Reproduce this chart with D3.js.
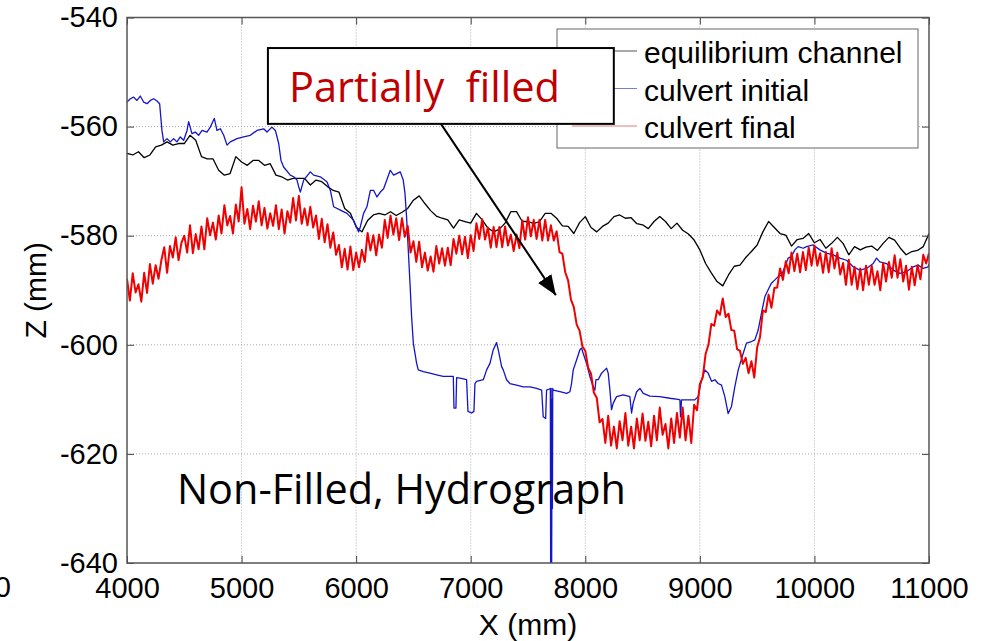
<!DOCTYPE html>
<html>
<head>
<meta charset="utf-8">
<script src="https://cdn.jsdelivr.net/npm/d3@7"></script>
<style>
body { margin: 0; background: #fff; }
svg { display: block; }
</style>
</head>
<body>
<div id="chart"></div>
<script>
// Axis ticks
var xTicks = [4000, 5000, 6000, 7000, 8000, 9000, 10000, 11000];
var zTicks = [-540, -560, -580, -600, -620, -640];
var seriesNames = ["equilibrium channel", "culvert initial", "culvert final"];

// equilibrium channel, one value every 50 mm from 4000
var eqStart = 4000, eqStep = 50;
var eqZ = [
  -564.9, -565.2, -564.6, -565.7, -565.2, -563.7, -563.4, -562.8, -563.4, -563.1,
  -563.1, -561.6, -562.5, -565.5, -565.9, -565.9, -568.0, -568.9, -568.6, -565.5,
  -566.5, -567.1, -566.2, -566.2, -567.1, -566.8, -568.9, -569.2, -569.8, -569.5,
  -569.5, -569.5, -570.7, -569.8, -570.1, -571.0, -571.7, -572.0, -575.0, -575.9,
  -578.4, -579.3, -577.2, -576.2, -575.9, -576.2, -575.6, -576.3, -575.7, -575.0,
  -573.5, -572.7, -574.1, -575.4, -576.4, -576.8, -577.1, -578.6, -577.1, -577.4,
  -577.7, -575.9, -577.1, -578.6, -579.3, -578.8, -577.7, -575.6, -575.6, -577.4,
  -577.4, -577.8, -577.4, -575.9, -575.9, -576.8, -578.2, -578.3, -579.6, -577.6,
  -576.5, -578.5, -579.3, -578.3, -577.7, -576.5, -576.2, -576.8, -576.7, -577.8,
  -578.0, -578.7, -577.4, -576.5, -577.4, -578.7, -577.7, -579.0, -579.7, -580.8,
  -582.6, -585.1, -586.8, -588.4, -589.2, -587.2, -585.6, -585.4, -584.0, -582.9,
  -581.7, -579.3, -577.4, -578.5, -579.6, -579.9, -581.9, -580.7, -580.5, -579.6,
  -581.3, -580.7, -582.3, -581.4, -580.3, -581.4, -583.5, -582.0, -582.6, -582.1,
  -581.9, -582.7, -581.4, -580.3, -580.8, -582.3, -583.5, -582.9, -582.7, -582.0,
  -579.6
];

// culvert initial, irregular points
var initX = [
  4000, 4029, 4058, 4087, 4116, 4145, 4175, 4204, 4233, 4262, 4285, 4305, 4320, 4349, 4378,
  4407, 4436, 4465, 4495, 4524, 4538, 4567, 4596, 4625, 4655, 4698, 4727, 4762, 4785, 4815,
  4844, 4873, 4902, 4960, 5018, 5076, 5135, 5193, 5222, 5265, 5295, 5324, 5344, 5367, 5425,
  5455, 5484, 5498, 5513, 5542, 5600, 5629, 5687, 5745, 5775, 5804, 5862, 5920, 5978, 6022,
  6036, 6065, 6094, 6124, 6153, 6182, 6211, 6240, 6298, 6327, 6385, 6411, 6426, 6440, 6455,
  6470, 6484, 6499, 6528, 6542, 6586, 6644, 6702, 6760, 6819, 6848, 6854, 6871, 6877, 6906,
  6964, 6976, 7008, 7028, 7037, 7051, 7110, 7139, 7168, 7197, 7226, 7240, 7270, 7284, 7313,
  7342, 7400, 7459, 7517, 7575, 7619, 7633, 7654, 7662, 7686, 7695, 7698, 7702, 7706, 7710,
  7713, 7716, 7720, 7779, 7837, 7866, 7880, 7895, 7924, 7953, 7968, 7982, 8011, 8040, 8069,
  8084, 8093, 8113, 8142, 8171, 8186, 8200, 8215, 8229, 8244, 8273, 8331, 8389, 8404, 8418,
  8448, 8477, 8506, 8564, 8651, 8738, 8811, 8826, 8831, 8840, 8913, 8956, 8985, 9015, 9044,
  9073, 9102, 9131, 9160, 9189, 9218, 9247, 9276, 9305, 9335, 9378, 9407, 9451, 9480, 9509,
  9538, 9567, 9596, 9625, 9655, 9684, 9713, 9742, 9771, 9800, 9829, 9858, 9902, 9931, 9989,
  10047, 10105, 10164, 10222, 10280, 10338, 10396, 10455, 10513, 10542, 10571, 10629, 10687, 10745, 10804,
  10862, 10905, 10949, 10993, 11000
];
var initZ = [
  -555.5, -554.9, -554.6, -555.2, -554.4, -555.5, -555.8, -555.2, -554.9, -555.3, -555.8, -560.7, -562.8, -562.2, -562.8,
  -562.2, -562.8, -561.9, -562.5, -560.7, -559.1, -561.3, -561.0, -561.6, -560.7, -561.0, -560.1, -558.5, -560.7, -560.4,
  -561.6, -563.4, -562.8, -562.2, -561.9, -561.6, -560.7, -560.4, -561.0, -560.1, -560.7, -563.1, -566.2, -567.4, -568.9,
  -569.2, -569.8, -571.0, -572.0, -569.8, -568.3, -568.9, -569.2, -570.1, -571.7, -574.7, -575.3, -575.9, -577.2, -579.3,
  -578.4, -575.9, -574.7, -571.7, -571.7, -572.9, -572.0, -571.4, -568.0, -568.9, -568.3, -569.8, -572.2, -576.5, -582.6,
  -588.7, -594.8, -599.7, -603.4, -604.6, -604.9, -605.2, -605.5, -605.8, -605.8, -605.8, -611.6, -611.6, -606.0, -606.1,
  -606.4, -612.2, -612.5, -612.2, -607.1, -606.7, -606.4, -604.6, -603.4, -600.9, -599.6, -600.9, -604.0, -604.6, -606.4,
  -607.1, -607.4, -607.7, -607.7, -608.0, -608.3, -613.2, -613.5, -608.3, -608.1, -608.0, -645.0, -608.0, -645.0, -610.0,
  -630.0, -608.0, -608.3, -608.6, -608.9, -608.6, -607.1, -604.6, -602.8, -600.9, -600.6, -601.6, -603.4, -605.8, -607.7,
  -608.3, -606.4, -606.4, -605.2, -604.6, -604.3, -605.2, -608.3, -611.9, -610.7, -609.5, -609.2, -609.5, -612.5, -610.7,
  -608.6, -608.0, -608.9, -609.4, -609.5, -609.8, -610.0, -610.1, -613.2, -610.1, -610.1, -610.1, -609.5, -606.4, -604.6,
  -605.2, -606.7, -606.4, -607.1, -607.4, -609.5, -612.6, -611.3, -607.7, -604.6, -601.6, -599.7, -599.4, -599.1, -597.3,
  -594.2, -591.2, -589.9, -588.7, -588.1, -587.5, -587.2, -585.7, -584.1, -583.8, -582.6, -582.0, -582.3, -582.0, -581.7,
  -582.6, -583.2, -583.5, -584.1, -584.5, -585.7, -586.3, -586.0, -585.1, -584.1, -584.8, -585.1, -586.3, -586.9, -586.6,
  -585.7, -585.4, -586.0, -585.7, -585.2
];

// culvert final, one value every 25 mm from 4000 (4 values per 100 mm)
var finStart = 4000, finStep = 25;
var finZ = [
  -587.9, -591.9, -586.9, -590.4,   -588.9, -592.1, -586.8, -590.5,   -585.2, -588.8, -585.4, -587.9,
  -584.5, -582.1, -586.8, -581.9,   -584.0, -580.3, -584.5, -581.3,   -580.0, -583.1, -578.1, -583.2,
  -579.7, -582.5, -578.3, -582.5,   -576.8, -579.9, -577.6, -580.7,   -576.3, -579.6, -574.4, -578.1,
  -576.4, -579.6, -574.3, -577.4,   -571.1, -577.8, -575.1, -578.8,   -574.5, -577.4, -573.7, -578.1,
  -574.9, -578.7, -575.9, -578.2,   -574.4, -578.8, -575.2, -579.6,   -575.5, -577.6, -573.1, -577.2,
  -572.7, -577.8, -575.0, -578.1,   -574.7, -578.5, -576.3, -580.6,   -576.9, -581.2, -577.9, -582.2,
  -579.4, -583.5, -581.7, -585.8,   -582.4, -586.2, -582.0, -586.3,   -583.1, -585.8, -582.6, -584.8,
  -579.5, -582.7, -579.9, -583.6,   -579.8, -582.2, -577.1, -580.4,   -576.3, -579.8, -576.8, -580.8,
  -576.8, -580.2, -578.2, -583.1,   -581.0, -584.8, -581.1, -585.8,   -583.1, -586.4, -583.8, -586.6,
  -581.9, -585.1, -582.3, -585.5,   -582.2, -585.4, -580.6, -583.3,   -580.0, -583.4, -580.2, -584.1,
  -579.9, -582.8, -577.7, -580.6,   -577.0, -580.7, -578.5, -582.2,   -578.4, -582.1, -578.4, -582.1,
  -578.3, -581.8, -579.8, -582.8,   -579.8, -582.3, -577.2, -580.7,   -576.6, -580.1, -577.1, -580.6,
  -577.1, -580.9, -577.1, -580.9,   -578.1, -580.9, -579.2, -583.0,   -583.3, -586.7, -588.2, -591.7,
  -593.1, -596.3, -597.4, -600.3,   -601.1, -604.2, -605.3, -608.8,   -609.7, -614.2, -613.6, -618.0,
  -613.0, -618.5, -615.0, -619.0,   -614.0, -617.5, -612.5, -618.5,   -615.0, -619.0, -613.5, -617.5,
  -612.6, -617.6, -614.1, -618.6,   -613.0, -617.5, -611.5, -616.5,   -614.5, -619.0, -613.5, -618.0,
  -612.5, -617.0, -611.5, -617.5,   -613.0, -618.0, -611.0, -612.0,   -607.2, -606.0, -601.7, -600.0,
  -596.2, -596.5, -593.7, -594.5,   -591.5, -594.9, -594.3, -597.3,   -597.4, -600.8, -601.1, -603.5,
  -602.4, -605.2, -603.0, -606.0,   -600.5, -598.6, -593.7, -594.0,   -590.8, -593.2, -589.6, -589.5,
  -586.0, -588.1, -584.7, -586.9,   -583.1, -586.5, -583.3, -586.7,   -583.0, -586.3, -582.2, -585.5,
  -581.8, -585.5, -583.2, -586.8,   -583.0, -586.7, -582.3, -586.0,   -583.1, -587.1, -585.0, -589.0,
  -584.4, -589.0, -585.7, -589.8,   -586.0, -590.0, -585.5, -589.0,   -585.5, -589.0, -586.5, -590.0,
  -585.0, -588.4, -584.8, -587.7,   -583.6, -587.7, -584.3, -588.4,   -585.5, -589.9, -585.7, -589.1,
  -585.4, -588.0, -583.5, -585.1,
  -583.2
];

var svgW = 998, svgH = 641;
var plotL = 127, plotR = 929, plotT = 17.5, plotB = 563;

var svg = d3.select('#chart').append('svg')
    .attr('width', svgW)
    .attr('height', svgH)
    .style('font-family', '"Liberation Sans", Arial, sans-serif')

var x = d3.scaleLinear().domain([4000, 11000]).range([plotL, plotR]);
var y = d3.scaleLinear().domain([-640, -540]).range([plotB, plotT]);

// grid (dotted)
var grid = svg.append('g').attr('class', 'grid')
grid.selectAll('line.gx')
    .data(xTicks.slice(1, -1))
    .enter().append('line')
    .attr('x1', d => x(d)).attr('x2', d => x(d))
    .attr('y1', plotT).attr('y2', plotB)
grid.selectAll('line.gy')
    .data(zTicks.slice(1, -1))
    .enter().append('line')
    .attr('y1', d => y(d)).attr('y2', d => y(d))
    .attr('x1', plotL).attr('x2', plotR)
grid.selectAll('line')
    .attr('stroke', '#aaa')
    .attr('stroke-width', 1)
    .attr('stroke-dasharray', '1,2')

// series lines, clipped to the axes box
svg.append('clipPath').attr('id', 'clip')
    .append('rect')
    .attr('x', plotL).attr('y', plotT)
    .attr('width', plotR - plotL).attr('height', plotB - plotT)

var eqPts = eqZ.map((z, i) => [eqStart + i * eqStep, z]);
var initPts = initX.map((v, i) => [v, initZ[i]]);
var finPts = finZ.map((z, i) => [finStart + i * finStep, z]);

var line = d3.line().x(d => x(d[0])).y(d => y(d[1]));

var lines = svg.append('g').attr('clip-path', 'url(#clip)')
lines.append('path').datum(eqPts)
    .attr('d', line).attr('fill', 'none')
    .attr('stroke', '#000').attr('stroke-width', 1.3).attr('stroke-linejoin', 'round')
lines.append('path').datum(initPts)
    .attr('d', line).attr('fill', 'none')
    .attr('stroke', '#1414c8').attr('stroke-width', 1.3).attr('stroke-linejoin', 'round')
lines.append('path').datum(finPts)
    .attr('d', line).attr('fill', 'none')
    .attr('stroke', '#f00000').attr('stroke-width', 2).attr('stroke-linejoin', 'round')

// axes (ticks pointing inward, matlab style)
var fontSize = 29;
var fmt = d => String(d);
svg.append('g')
    .attr('transform', 'translate(0,' + plotB + ')')
    .call(d3.axisBottom(x).tickValues(xTicks).tickFormat(fmt).tickSizeInner(-7).tickSizeOuter(0).tickPadding(14))
svg.append('g')
    .attr('transform', 'translate(' + plotL + ',0)')
    .call(d3.axisLeft(y).tickValues(zTicks).tickFormat(fmt).tickSizeInner(-7).tickSizeOuter(0).tickPadding(9))
svg.append('g')
    .attr('transform', 'translate(0,' + plotT + ')')
    .call(d3.axisTop(x).tickValues(xTicks).tickSizeInner(-7).tickSizeOuter(0).tickFormat(''))
svg.append('g')
    .attr('transform', 'translate(' + plotR + ',0)')
    .call(d3.axisRight(y).tickValues(zTicks).tickSizeInner(-7).tickSizeOuter(0).tickFormat(''))

svg.selectAll('.domain').remove()
svg.selectAll('.tick line').attr('stroke', '#444')
svg.selectAll('.tick text')
    .attr('fill', '#000')
    .style('font-size', fontSize + 'px')
    .style('font-family', '"Liberation Sans", Arial, sans-serif')

// axes box
svg.append('rect')
    .attr('x', plotL).attr('y', plotT)
    .attr('width', plotR - plotL).attr('height', plotB - plotT)
    .attr('fill', 'none').attr('stroke', '#555').attr('stroke-width', 1.5)

// label cut off at the far left, as in the source picture
svg.append('text')
    .attr('x', 11).attr('y', 597)
    .attr('text-anchor', 'end')
    .style('font-size', fontSize + 'px')
    .text('0')

// axis labels
svg.append('text')
    .attr('x', (plotL + plotR) / 2).attr('y', 635)
    .attr('text-anchor', 'middle')
    .style('font-size', '30px')
    .text('X (mm)')
svg.append('text')
    .attr('transform', 'translate(46,' + ((plotT + plotB) / 2) + ') rotate(-90)')
    .attr('text-anchor', 'middle')
    .style('font-size', '30px')
    .text('Z (mm)')

// legend
var legendColors = ['#555', '#7b7bd6', '#d98080'];
var legend = svg.append('g')
legend.append('rect')
    .attr('x', 557).attr('y', 29)
    .attr('width', 361).attr('height', 119)
    .attr('fill', '#fff').attr('stroke', '#666').attr('stroke-width', 1)
seriesNames.forEach((name, i) => {
    var by = 63 + i * 37.5
    legend.append('line')
        .attr('x1', 572).attr('x2', 637)
        .attr('y1', by - 12).attr('y2', by - 12)
        .attr('stroke', legendColors[i]).attr('stroke-width', 1.2)
    legend.append('text')
        .attr('x', 644).attr('y', by)
        .style('font-size', '30px')
        .text(name)
})

// annotations
var annoFont = '"Open Sans", "Noto Sans", sans-serif';
svg.append('defs').append('marker')
    .attr('id', 'arrowhead')
    .attr('markerUnits', 'userSpaceOnUse')
    .attr('markerWidth', 22).attr('markerHeight', 16)
    .attr('refX', 20).attr('refY', 8)
    .attr('orient', 'auto')
    .append('path')
    .attr('d', 'M0,0 L20,8 L0,16 Z')
    .attr('fill', '#000')

svg.append('line')
    .attr('x1', x(6740)).attr('y1', y(-559.5))
    .attr('x2', x(7743)).attr('y2', y(-590.9))
    .attr('stroke', '#000').attr('stroke-width', 2)
    .attr('marker-end', 'url(#arrowhead)')

svg.append('rect')
    .attr('x', x(5230)).attr('y', y(-545.6))
    .attr('width', x(8249) - x(5230)).attr('height', y(-559.5) - y(-545.6))
    .attr('fill', '#fff').attr('stroke', '#000').attr('stroke-width', 2)

svg.append('text')
    .attr('x', x(5414)).attr('y', y(-555.5))
    .attr('xml:space', 'preserve')
    .style('white-space', 'pre')
    .style('font-family', annoFont)
    .style('font-size', '42px')
    .attr('fill', '#c00000')
    .attr('textLength', 271).attr('lengthAdjust', 'spacingAndGlyphs')
    .text('Partially  filled')

svg.append('text')
    .attr('x', x(4436)).attr('y', y(-629.2))
    .style('font-family', annoFont)
    .style('font-size', '42px')
    .attr('fill', '#000')
    .attr('textLength', 449).attr('lengthAdjust', 'spacingAndGlyphs')
    .text('Non-Filled, Hydrograph')
</script>
</body>
</html>
